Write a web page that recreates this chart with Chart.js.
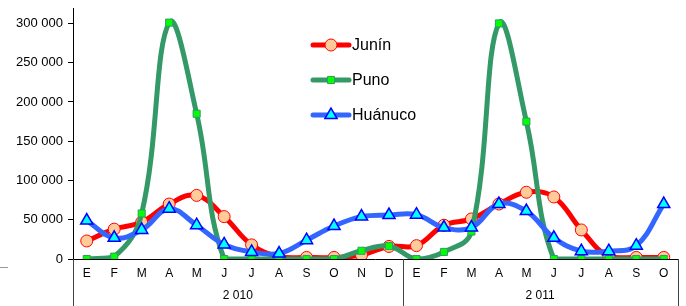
<!DOCTYPE html>
<html>
<head>
<meta charset="utf-8">
<script src="https://cdn.jsdelivr.net/npm/chart.js@4/dist/chart.umd.min.js"></script>
<style>
  html, body { margin: 0; padding: 0; background: #fff; }
  #wrap { width: 686px; height: 306px; position: relative; }
</style>
</head>
<body>
<div id="wrap"><canvas id="Chart" width="686" height="306"></canvas></div>
<script>
// month labels, E..D for 2010 then E..O for 2011
var months = ["E","F","M","A","M","J","J","A","S","O","N","D",
              "E","F","M","A","M","J","J","A","S","O"];
var years = ["2 010", "2 011"];
var yearLengths = [12, 10];
var yTicks = [0, 50000, 100000, 150000, 200000, 250000, 300000];

// series
var junin = [23000, 38000, 47000, 70000, 81000, 54000, 18000, 3000, 2000, 2000, 5000, 16000,
             17000, 43000, 51000, 70000, 85000, 79000, 37000, 3000, 2000, 2000];
var puno = [0, 3000, 58000, 301000, 185000, 0, 0, 0, 0, 0, 10500, 16500,
            0, 9000, 35000, 300000, 175000, 0, 0, 0, 0, 0];
var huanuco = [49000, 27000, 37000, 64000, 43000, 18500, 9000, 7000, 24000, 42000, 54000, 56000,
               56500, 40000, 40000, 70000, 61000, 27000, 10000, 10000, 17000, 70000];

var fontName = "'Liberation Sans', Arial, sans-serif";

function spaced(v) {
    return String(v).replace(/\B(?=(\d{3})+(?!\d))/g, ' ');
}

// draws the year boxes under the axis, the legend inside the plot and the little stray dash
var extras = {
    id: 'extras',
    afterDraw: function(chart) {
        var ctx = chart.ctx;
        var area = chart.chartArea;
        var x = chart.scales.x;
        var bottom = chart.height;
        ctx.save();
        ctx.lineWidth = 1;
        // year divider lines
        var start = 0;
        var edges = [area.left];
        var half = (x.getPixelForValue(1) - x.getPixelForValue(0)) / 2;
        for (var i = 0; i < yearLengths.length; i++) {
            start += yearLengths[i];
            edges.push(Math.min(x.getPixelForValue(start - 1) + half, area.right));
        }
        ctx.strokeStyle = '#444';
        edges.forEach(function(e) {
            var px = Math.round(e) + 0.5;
            ctx.beginPath();
            ctx.moveTo(px, area.bottom);
            ctx.lineTo(px, bottom);
            ctx.stroke();
        });
        // year labels
        ctx.fillStyle = '#000';
        ctx.font = '12px ' + fontName;
        ctx.textAlign = 'center';
        ctx.textBaseline = 'middle';
        for (var j = 0; j < years.length; j++) {
            ctx.fillText(years[j], (edges[j] + edges[j + 1]) / 2, 296);
        }
        // stray dash at the left
        ctx.strokeStyle = '#999';
        ctx.beginPath();
        ctx.moveTo(0, 267.5);
        ctx.lineTo(8, 267.5);
        ctx.stroke();
        // legend
        chart.data.datasets.forEach(function(ds, n) {
            var ly = 45 + 35 * n;
            ctx.strokeStyle = ds.borderColor;
            ctx.lineWidth = ds.borderWidth;
            ctx.lineCap = 'round';
            ctx.beginPath();
            ctx.moveTo(313, ly);
            ctx.lineTo(349, ly);
            ctx.stroke();
            ctx.lineCap = 'butt';
            ctx.fillStyle = ds.pointBackgroundColor;
            ctx.strokeStyle = ds.pointBorderColor;
            ctx.lineWidth = ds.pointBorderWidth;
            Chart.helpers.drawPoint(ctx, {pointStyle: ds.pointStyle, rotation: 0, radius: ds.pointRadius, borderWidth: ds.pointBorderWidth}, 331, ly);
            ctx.fillStyle = '#000';
            ctx.font = '16px ' + fontName;
            ctx.textAlign = 'left';
            ctx.textBaseline = 'middle';
            ctx.fillText(ds.label, 352, ly + 1);
        });
        ctx.restore();
    }
};

var ctx = document.getElementById('Chart').getContext('2d');
Chart.defaults.font.family = fontName;
Chart.defaults.color = '#000';

var chart = new Chart(ctx, {
    type: 'line',
    data: {
        labels: months,
        datasets: [{
            label: "Junín",
            data: junin,
            borderColor: '#FF0000',
            borderWidth: 5,
            pointStyle: 'circle',
            pointRadius: 6,
            pointBackgroundColor: '#FFCC99',
            pointBorderColor: '#FF0000',
            pointBorderWidth: 1,
            tension: 0.4,
            order: 3
        }, {
            label: "Puno",
            data: puno,
            borderColor: '#339966',
            borderWidth: 5,
            pointStyle: 'rect',
            pointRadius: 5,
            pointBackgroundColor: '#00FF00',
            pointBorderColor: '#339966',
            pointBorderWidth: 1,
            tension: 0.4,
            order: 2
        }, {
            label: "Huánuco",
            data: huanuco,
            borderColor: '#3366FF',
            borderWidth: 5,
            pointStyle: 'triangle',
            pointRadius: 7,
            pointBackgroundColor: '#00FFFF',
            pointBorderColor: '#0000FF',
            pointBorderWidth: 1.5,
            tension: 0.4,
            order: 1
        }]
    },
    options: {
        responsive: false,
        animation: false,
        layout: { padding: { top: 7, right: 7, left: 0, bottom: 0 } },
        plugins: { legend: { display: false }, tooltip: { enabled: false } },
        scales: {
            x: {
                offset: true,
                grid: { display: false, drawTicks: false },
                border: { display: true, color: '#000', width: 1 },
                ticks: { font: { size: 12 }, padding: 7, maxRotation: 0, autoSkip: false },
                afterFit: function(s) { s.height = 47; s.paddingLeft = 0; s.paddingRight = 0; }
            },
            y: {
                min: 0,
                max: 319000,
                grid: { drawOnChartArea: false, drawTicks: true, tickLength: 5, color: '#000' },
                border: { display: true, color: '#000', width: 1 },
                ticks: { font: { size: 13 }, padding: 5, autoSkip: false, callback: function(v) { return spaced(v); } },
                afterBuildTicks: function(s) { s.ticks = yTicks.map(function(v) { return { value: v }; }); },
                afterFit: function(s) { s.width = 73; s.paddingTop = 0; s.paddingBottom = 0; }
            }
        }
    },
    plugins: [extras]
});
</script>
</body>
</html>
